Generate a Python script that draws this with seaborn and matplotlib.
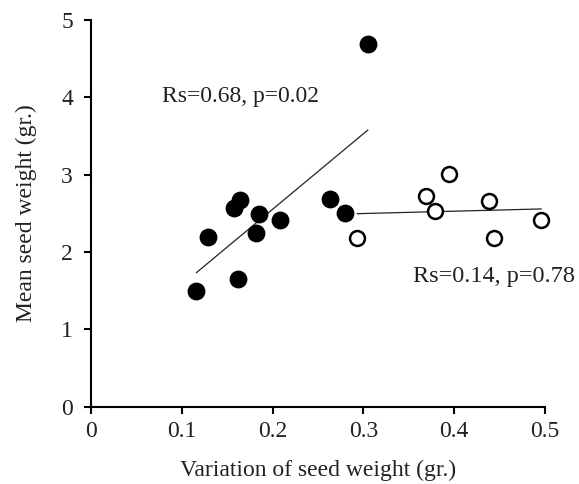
import matplotlib
matplotlib.use("Agg")
import matplotlib.pyplot as plt
import seaborn as sns
import pandas as pd

# Data
filled_x = [0.116, 0.129, 0.157, 0.164, 0.162, 0.185, 0.182, 0.208, 0.263, 0.280, 0.305]
filled_y = [1.49, 2.20, 2.57, 2.67, 1.65, 2.49, 2.24, 2.41, 2.69, 2.50, 4.69]
open_x = [0.293, 0.369, 0.379, 0.394, 0.438, 0.444, 0.496]
open_y = [2.18, 2.72, 2.53, 3.01, 2.66, 2.18, 2.42]
x_ticks = [0, 0.1, 0.2, 0.3, 0.4, 0.5]
x_tick_labels = ["0", "0.1", "0.2", "0.3", "0.4", "0.5"]
y_ticks = [0, 1, 2, 3, 4, 5]
label_filled = "Rs=0.68, p=0.02"
label_open = "Rs=0.14, p=0.78"

df_f = pd.DataFrame({"x": filled_x, "y": filled_y})
df_o = pd.DataFrame({"x": open_x, "y": open_y})

sns.set_style("white")
plt.rcParams["font.family"] = ["Liberation Serif", "DejaVu Serif"]

fig = plt.figure(figsize=(5.79, 4.84), dpi=100)
ax = fig.add_axes([91 / 579, 1 - 406.7 / 484, (545 - 91) / 579, (406.7 - 20) / 484])

sns.regplot(data=df_f, x="x", y="y", scatter=False, ci=None, truncate=True,
            line_kws={"color": "#222222", "lw": 0.9}, ax=ax)
sns.regplot(data=df_o, x="x", y="y", scatter=False, ci=None, truncate=True,
            line_kws={"color": "#222222", "lw": 0.9}, ax=ax)
sns.scatterplot(data=df_f, x="x", y="y", s=140, color="black", edgecolor="black",
                linewidth=1.0, ax=ax, zorder=3, clip_on=False)
sns.scatterplot(data=df_o, x="x", y="y", s=115, facecolor="white", edgecolor="black",
                linewidth=1.8, ax=ax, zorder=3, clip_on=False)

ax.set_xlim(0, 0.5)
ax.set_ylim(0, 5)
ax.set_xticks(x_ticks)
ax.set_xticklabels(x_tick_labels)
ax.set_yticks(y_ticks)
for s in ["top", "right"]:
    ax.spines[s].set_visible(False)
for s in ["left", "bottom"]:
    ax.spines[s].set_linewidth(1.5)
    ax.spines[s].set_color("black")
ax.tick_params(axis="both", bottom=True, left=True, direction="out", length=5,
               width=1.5, color="black", labelsize=17, labelcolor="#222222")
ax.tick_params(axis="y", pad=8)
ax.tick_params(axis="x", pad=5)
ax.set_xlabel("Variation of seed weight (gr.)", fontsize=17, color="#222222", labelpad=13)
ax.set_ylabel("Mean seed weight (gr.)", fontsize=17, color="#222222", labelpad=17)

ax.text(0.078, 4.01, label_filled, fontsize=17, color="#222222", va="center", ha="left")
ax.text(0.3546, 1.68, label_open, fontsize=17.5, color="#222222", va="center", ha="left",
        clip_on=False)

fig.savefig("out.png", dpi=100)
